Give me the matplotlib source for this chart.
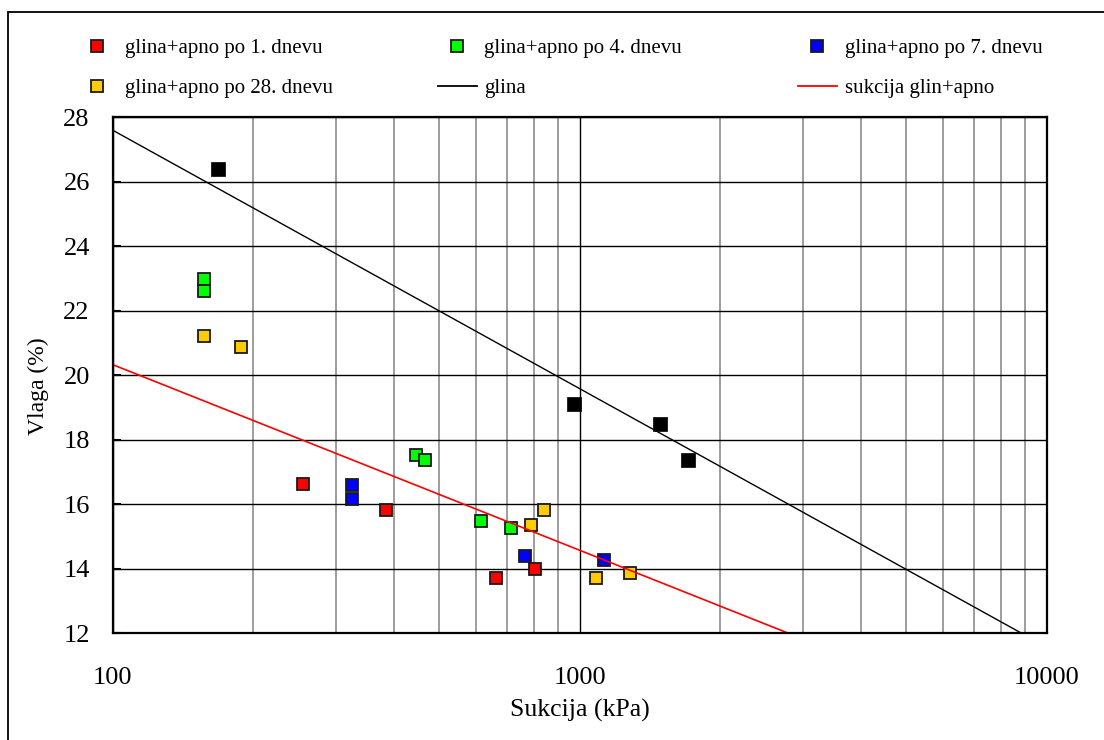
import matplotlib
matplotlib.use("Agg")
import matplotlib.pyplot as plt
from matplotlib.lines import Line2D
from matplotlib.patches import Rectangle
from matplotlib.ticker import FixedLocator, NullFormatter

plt.rcParams['font.family'] = ['Liberation Serif', 'DejaVu Serif']

# measured points: suction (kPa) and moisture (%)
glina_s = [168, 971, 1484, 1703]
glina_w = [26.39, 19.1, 18.48, 17.37]

dan1_s = [256, 385, 663, 802]
dan1_w = [16.64, 15.81, 13.72, 13.99]

dan4_s = [157, 157, 446, 466, 614, 711]
dan4_w = [22.98, 22.6, 17.53, 17.37, 15.48, 15.27]

dan7_s = [326, 326, 763, 1126]
dan7_w = [16.59, 16.15, 14.39, 14.26]

dan28_s = [157, 188, 788, 838, 1086, 1279]
dan28_w = [21.21, 20.87, 15.37, 15.81, 13.72, 13.87]

# trend lines (end points)
trend_glina_s = [100, 8840]
trend_glina_w = [27.6, 12.0]
trend_apno_s = [100, 2800]
trend_apno_w = [20.33, 12.0]

x_ticks = [100, 1000, 10000]
x_tick_labels = ["100", "1000", "10000"]
y_ticks = [12, 14, 16, 18, 20, 22, 24, 26, 28]

W, H = 1104, 740


def px(x, y):
    # pixel position -> figure fraction
    return x / W, 1 - y / H


fig = plt.figure(figsize=(W / 100, H / 100), dpi=100)
ax = fig.add_axes([112.7 / W, 1 - 633.3 / H, 934 / W, 516 / H])

# scatter series
series = [
    (dan1_s, dan1_w, "#ff0000"),
    (dan4_s, dan4_w, "#00ff00"),
    (dan7_s, dan7_w, "#0000ff"),
    (dan28_s, dan28_w, "#ffcc00"),
]
for s, w, col in series:
    ax.plot(s, w, ls="none", marker="s", ms=8.4, mew=1.3, mfc=col,
            mec="#1a1a1a", zorder=3)
ax.plot(glina_s, glina_w, ls="none", marker="s", ms=9.4, mew=0.5,
        mfc="black", mec="black", zorder=3)

# trend lines on top of markers
ax.plot(trend_glina_s, trend_glina_w, color="black", lw=1.0, zorder=4)
ax.plot(trend_apno_s, trend_apno_w, color="#ff0000", lw=1.2, zorder=4)

# axes
ax.set_xscale("log")
ax.set_xlim(100, 10000)
ax.set_ylim(12, 28)
ax.xaxis.set_major_locator(FixedLocator(x_ticks))
ax.set_xticklabels(x_tick_labels)
ax.xaxis.set_minor_locator(FixedLocator(
    [m * d for d in (100, 1000) for m in range(2, 10)]))
ax.xaxis.set_minor_formatter(NullFormatter())
ax.set_yticks(y_ticks)
ax.tick_params(axis="x", which="both", length=0, labelsize=19, pad=24)
ax.tick_params(axis="y", direction="in", length=6, width=1.5,
               labelsize=19, pad=16.5)

ax.grid(True, which="major", axis="both", color="black", lw=1.0)
ax.grid(True, which="minor", axis="x", color="#8c8c8c", lw=1.2)
ax.set_axisbelow(True)
for sp in ax.spines.values():
    sp.set_linewidth(1.6)
    sp.set_zorder(5)

ax.set_xlabel("Sukcija (kPa)", fontsize=18.5)
ax.xaxis.set_label_coords(0.5, -0.127)
ax.set_ylabel("Vlaga (%)", fontsize=17)
ax.yaxis.set_label_coords(-0.068, 0.479)

# legend drawn by hand to follow the original layout (3 columns, 2 rows)
fs_leg = 15
marker_items = [
    (97, 46, 125, 53, "#ff0000", "glina+apno po 1. dnevu"),
    (457, 46, 484, 53, "#00ff00", "glina+apno po 4. dnevu"),
    (817, 46, 845, 53, "#0000ff", "glina+apno po 7. dnevu"),
    (97, 86, 125, 93, "#ffcc00", "glina+apno po 28. dnevu"),
]
for mx, my, tx, ty, col, lab in marker_items:
    fig.add_artist(Line2D([px(mx, my)[0]], [px(mx, my)[1]], ls="none",
                          marker="s", ms=8, mew=1.3, mfc=col, mec="#1a1a1a",
                          transform=fig.transFigure))
    fig.text(*px(tx, ty), lab, fontsize=fs_leg, va="baseline", ha="left")

line_items = [
    (438, 477, 86, 484, 93, "black", "glina"),
    (798, 837, 86, 845, 93, "#ff0000", "sukcija glin+apno"),
]
for x0, x1, ly, tx, ty, col, lab in line_items:
    a, b = px(x0, ly), px(x1, ly)
    fig.add_artist(Line2D([a[0], b[0]], [a[1], b[1]], color=col, lw=1.3,
                          transform=fig.transFigure))
    fig.text(*px(tx, ty), lab, fontsize=fs_leg, va="baseline", ha="left")

# outer chart border (only top and left visible)
fig.add_artist(Rectangle(px(8, 800), 1.2, (800 - 12) / H, fill=False,
                         lw=1.3, ec="black", transform=fig.transFigure,
                         clip_on=False))

fig.savefig("out.png", dpi=100)
